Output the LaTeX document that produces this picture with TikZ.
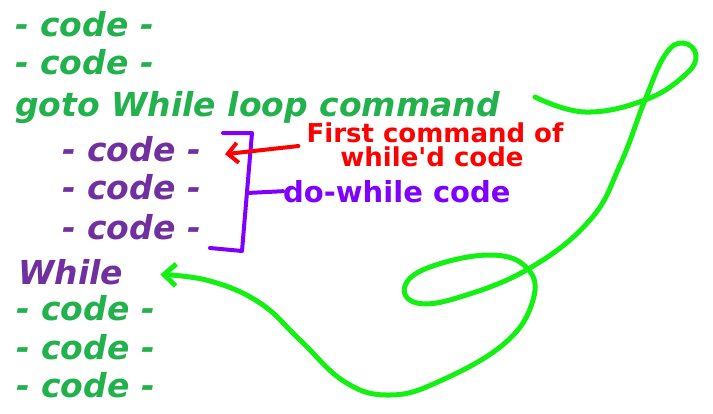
\documentclass[tikz,border=0pt]{standalone}
\usepackage{fontspec}
\usepackage{tikz}
\usetikzlibrary{positioning,calc,arrows.meta}
\newfontfamily\codefont{DejaVu Sans}
\newfontfamily\notefont{DejaVu Sans}
\definecolor{codegreen}{RGB}{34,177,76}
\definecolor{codepurple}{RGB}{112,48,160}
\definecolor{notered}{RGB}{255,0,0}
\definecolor{noteviolet}{RGB}{128,0,255}
\definecolor{loopgreen}{RGB}{20,240,20}

\begin{document}
\begin{tikzpicture}[
    x=1pt, y=1pt,
    codeline/.style={font=\codefont\bfseries\itshape\fontsize{33}{36}\selectfont, inner sep=0pt, text height=27pt, text depth=7pt},
    greencode/.style={codeline, text=codegreen},
    purplecode/.style={codeline, text=codepurple},
    rednote/.style={font=\notefont\bfseries\fontsize{26}{26}\selectfont, inner sep=0pt, text=notered},
    violetnote/.style={font=\notefont\bfseries\fontsize{29}{29}\selectfont, inner sep=0pt, text=noteviolet},
    bracketline/.style={draw=noteviolet, line width=4pt, line cap=round, line join=round},
    redarrow/.style={draw=notered, line width=4pt, line cap=round, -{Straight Barb[length=10pt,width=20pt]}},
    looparrow/.style={draw=loopgreen, line width=5pt, line cap=round, -{Straight Barb[length=12pt,width=22pt]}}
]
\useasboundingbox (0,0) rectangle (713,-413);

% code before the loop
\node[greencode, anchor=base west] (c1) at (15,-36) {- code -};
\node[greencode, below=4pt of c1.south west, anchor=north west] (c2) {- code -};
\node[greencode, below=8pt of c2.south west, anchor=north west] (gt) {goto While loop command};

% do-while body
\node[purplecode, below=10pt of gt.south west, anchor=north west, xshift=47pt] (p1) {- code -};
\node[purplecode, below=4pt of p1.south west, anchor=north west] (p2) {- code -};
\node[purplecode, below=5pt of p2.south west, anchor=north west] (p3) {- code -};
\node[purplecode, below=11pt of p3.south west, anchor=north west, xshift=-44pt] (wh) {While};

% code after the loop
\node[greencode, below=2pt of wh.south west, anchor=north west, xshift=-2pt] (g4) {- code -};
\node[greencode, below=4pt of g4.south west, anchor=north west] (g5) {- code -};
\node[greencode, below=4pt of g5.south west, anchor=north west] (g6) {- code -};

% notes
\node[rednote, anchor=base] (fc1) at (435,-142) {First command of};
\node[rednote, anchor=base] (fc2) at (432,-166) {while'd code};
\node[violetnote, anchor=base west] (dw) at (283,-202) {do-while code};

% bracket round the body
\coordinate (brmid) at (247,-193);
\draw[bracketline] (223,-133) -- (252,-133) -- (242,-251) -- (210,-248);
\draw[bracketline] (brmid) -- (dw.west);

% arrows
\draw[redarrow] ($(fc1.base west)+(-8,-4)$) -- ($(p1.base east)+(24,7)$);

\coordinate (loopstart) at (535,-97);
\coordinate (loopend) at ($(wh.east)+(37,0)$);
\draw[looparrow] plot[smooth, tension=0.7] coordinates {(loopstart) (585,-112) (645,-100) (685,-75) (696,-55) (683,-43) (665,-55) (645,-100) (620,-165) (590,-220) (530,-268) (460,-297) (417,-303) (405,-286) (430,-267) (490,-255) (527,-268) (533,-300) (505,-343) (440,-381) (390,-395) (345,-382) (300,-340) (260,-303) (210,-281) (loopend)};

\end{tikzpicture}
\end{document}
